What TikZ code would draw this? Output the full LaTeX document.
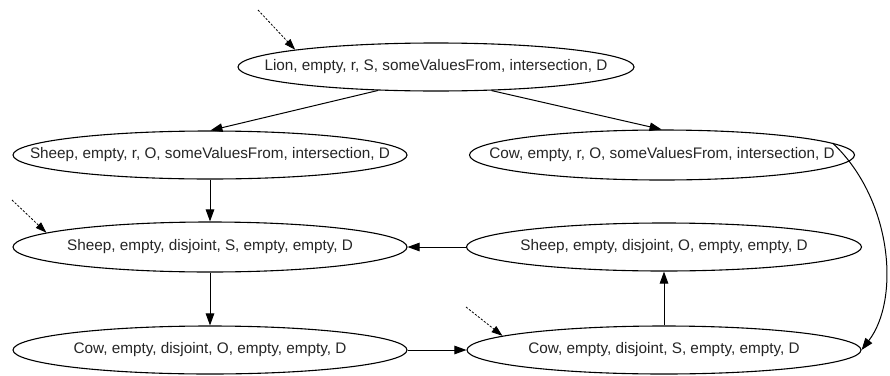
\documentclass[tikz,border=0pt]{standalone}
\usepackage{fontspec}
\setmainfont{Liberation Sans}
\usetikzlibrary{shapes.geometric,arrows.meta}

% label set in a zero-width box so the ellipse keeps its given size
\newcommand\statetext[1]{\makebox[0pt]{#1}}

\tikzset{
  state/.style={draw, ellipse, line width=1.1pt, inner sep=0pt,
    minimum width=394pt, minimum height=48pt,
    font=\fontsize{15.3}{17}\selectfont, text=black!85},
  edge/.style={line width=1pt, -{Triangle[length=12pt,width=8.5pt]}},
  entry/.style={line width=0.8pt, dash pattern=on 2.2pt off 1.6pt,
    -{Triangle[length=11pt,width=7.5pt]}},
}

\begin{document}
\begin{tikzpicture}[x=1pt, y=-1pt]
  \useasboundingbox[fill=white] (0,0) rectangle (890,375);

  % states
  \node[state, minimum width=396pt] (lion) at (436,67)
    {\statetext{Lion, empty, r, S, someValuesFrom, intersection, D}};
  \node[state] (sro) at (210,155)
    {\statetext{Sheep, empty, r, O, someValuesFrom, intersection, D}};
  \node[state, minimum width=385pt, minimum height=50pt] (cro) at (662,155)
    {\statetext{Cow, empty, r, O, someValuesFrom, intersection, D}};
  \node[state, minimum height=50pt] (sds) at (210,247)
    {\statetext{Sheep, empty, disjoint, S, empty, empty, D}};
  \node[state, minimum width=395pt] (sdo) at (664,247)
    {\statetext{Sheep, empty, disjoint, O, empty, empty, D}};
  \node[state] (cdo) at (210,350)
    {\statetext{Cow, empty, disjoint, O, empty, empty, D}};
  \node[state] (cds) at (664,350)
    {\statetext{Cow, empty, disjoint, S, empty, empty, D}};

  % entry points
  \coordinate (e1) at (258,10);
  \coordinate (e2) at (12,200);
  \coordinate (e3) at (466,307);
  \draw[entry] (e1) -- (lion.173);
  \draw[entry] (e2) -- (sds.175);
  \draw[entry] (e3) -- (cds.175);

  % transitions
  \draw[edge] (lion.202) -- (sro.89);
  \draw[edge] (lion.337) -- (cro.91);
  \draw[edge] (sro.south) -- (sds.north);
  \draw[edge] (sdo.west) -- (sds.east);
  \draw[edge] (sds.south) -- (cdo.north);
  \draw[edge] (cdo.east) -- (cds.west);
  \draw[edge] (cds.north) -- (sdo.south);
  \draw[edge] (cro.4) .. controls (893,200) and (900,300) .. (cds.east);
\end{tikzpicture}
\end{document}
